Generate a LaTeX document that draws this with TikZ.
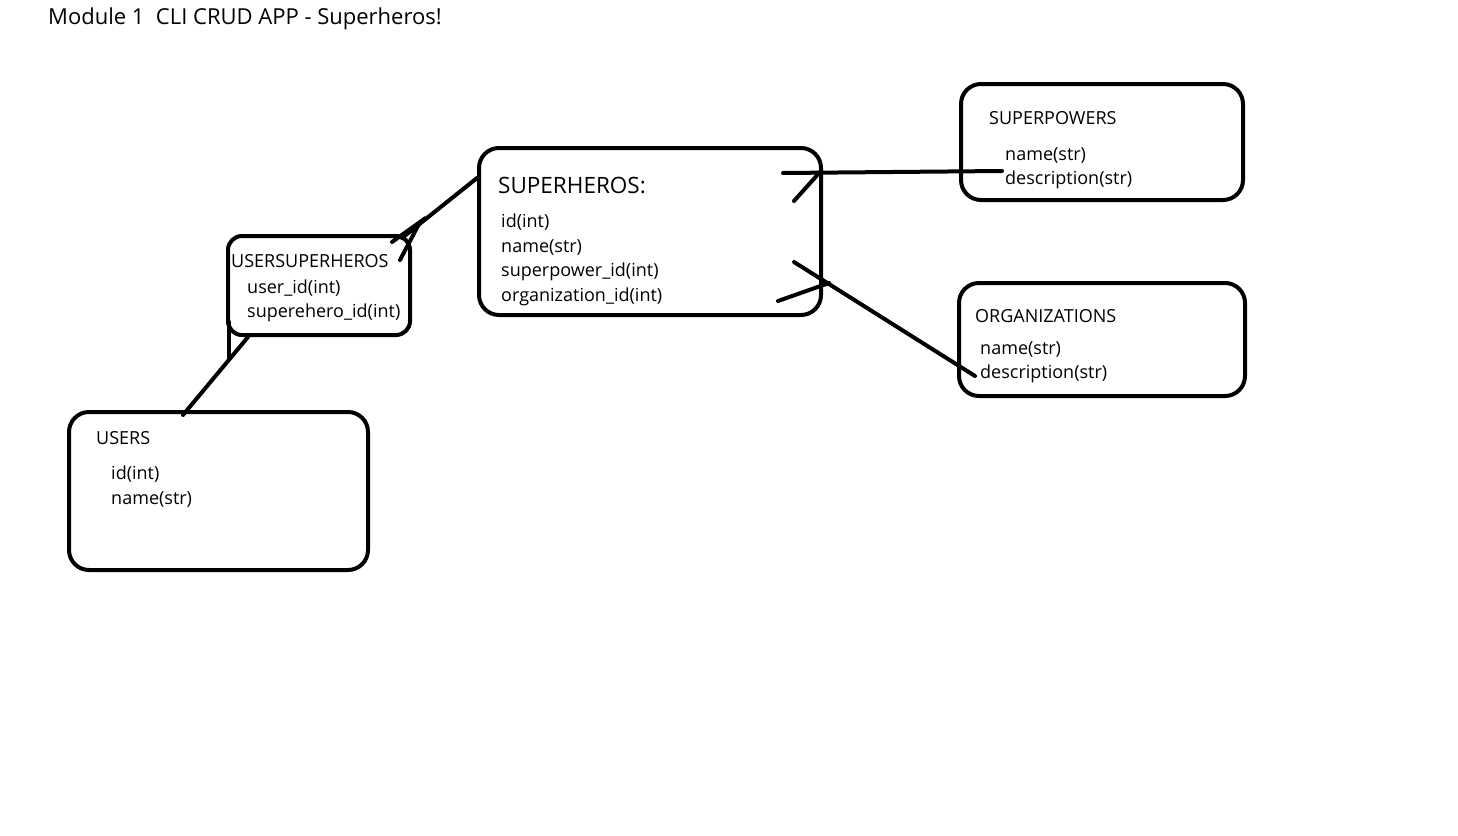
\documentclass[tikz,border=0pt]{standalone}
\usepackage{fontspec}
\setmainfont{Open Sans}
\begin{document}
\begin{tikzpicture}[x=1pt,y=-1pt,
  box/.style={line width=4pt, rounded corners=20pt},
  smallbox/.style={line width=4pt, rounded corners=14pt},
  conn/.style={line width=4pt, line cap=round},
  lbl/.style={anchor=west, inner sep=0pt, font=\fontsize{18}{20}\selectfont},
  ttl/.style={anchor=west, inner sep=0pt, font=\fontsize{22.5}{24}\selectfont},
]
\useasboundingbox (0,0) rectangle (1458,835);
\fill[white] (0,0) rectangle (1458,835);

% title
\node[lbl, font=\fontsize{22}{24}\selectfont] (title) at (48,18.5) {Module 1\ \ CLI CRUD APP - Superheros!};

% boxes
\draw[box] (479,148) rectangle (821,315);
\node[draw=none, minimum width=342pt, minimum height=167pt, inner sep=0pt] (superheros) at (650,231.5) {};
\draw[box] (961,84) rectangle (1243,200);
\node[minimum width=282pt, minimum height=116pt, inner sep=0pt] (superpowers) at (1102,142) {};
\draw[box] (959,283) rectangle (1245,396);
\node[minimum width=286pt, minimum height=113pt, inner sep=0pt] (organizations) at (1102,339.5) {};
\draw[smallbox] (228,236) rectangle (410,335);
\node[minimum width=182pt, minimum height=99pt, inner sep=0pt] (usersuperheros) at (319,285.5) {};
\draw[box] (69,412) rectangle (368,570);
\node[minimum width=299pt, minimum height=158pt, inner sep=0pt] (users) at (218.5,491) {};

% texts
\node[ttl] (sh) at (498,185) {SUPERHEROS:};
\node[lbl] (sh1) at (501,222) {id(int)};
\node[lbl] (sh2) at (501,247) {name(str)};
\node[lbl] (sh3) at (501,272) {superpower\_id(int)};
\node[lbl] (sh4) at (501,297) {organization\_id(int)};

\node[lbl] (sp) at (989,118) {SUPERPOWERS};
\node[lbl] (sp1) at (1005,155) {name(str)};
\node[lbl] (sp2) at (1005,180) {description(str)};

\node[lbl] (org) at (975,316) {ORGANIZATIONS};
\node[lbl] (org1) at (980,349) {name(str)};
\node[lbl] (org2) at (980,374) {description(str)};

\node[lbl] (us) at (231,261) {USERSUPERHEROS};
\node[lbl] (us1) at (247,288) {user\_id(int)};
\node[lbl] (us2) at (247,313) {superehero\_id(int)};

\node[lbl] (u) at (96,438) {USERS};
\node[lbl] (u1) at (111,474) {id(int)};
\node[lbl] (u2) at (111,499) {name(str)};

% connector coordinates
\coordinate (a1) at (477,178);
\coordinate (a2) at (402,238);
\coordinate (a3) at (420,222);
\coordinate (a4) at (392,242);
\coordinate (a5) at (400,260);

\coordinate (b1) at (248,337);
\coordinate (b2) at (183,415);
\coordinate (b3) at (229,322);
\coordinate (b4) at (229,358);

\coordinate (c1) at (783,173);
\coordinate (c2) at (1002,171);
\coordinate (c3) at (820,172);
\coordinate (c4) at (794,201);

\coordinate (d1) at (794,262);
\coordinate (d2) at (975,376);
\coordinate (d3) at (829,283);
\coordinate (d4) at (778,301);

\draw[conn] (a1) -- (a2);
\draw[conn] (a4) -- (a3) -- (a5);
\draw[conn] (b1) -- (b2);
\draw[conn] (b3) -- (b4);
\draw[conn] (c1) -- (c2);
\draw[conn] (c3) -- (c4);
\draw[conn] (d1) -- (d2);
\draw[conn] (d3) -- (d4);
\end{tikzpicture}
\end{document}
